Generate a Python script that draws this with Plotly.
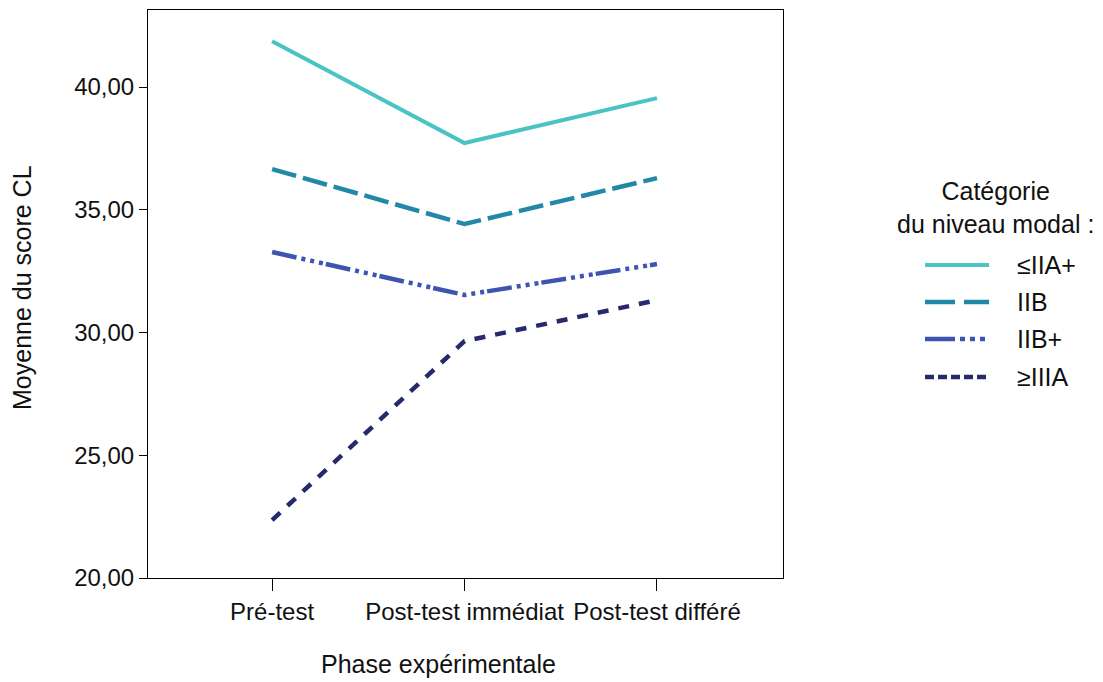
import plotly.graph_objects as go

phases = ["Pré-test", "Post-test immédiat", "Post-test différé"]
series_names = ["≤IIA+", "IIB", "IIB+", "≥IIIA"]
v_iia = [41.87, 37.72, 39.55]
v_iib = [36.66, 34.42, 36.29]
v_iibp = [33.28, 31.53, 32.79]
v_iiia = [22.36, 29.65, 31.32]
values = [v_iia, v_iib, v_iibp, v_iiia]
y_ticks = [20, 25, 30, 35, 40]

colors = ["#4BC3C5", "#2188A8", "#3D55B0", "#262A6D"]
dashes = ["solid", "25px,7px", "25px,5px,4px,5px,4px,5px,4px,3px", "11px,10px"]
leg_dashes = ["solid", "30px,9px", "30px,5px,5px,5px,5px,5px,5px,5px", "9px,4px"]
widths = [4, 4.5, 4.5, 4.5]

FONT = "Arial, Liberation Sans, sans-serif"

fig = go.Figure()
xs = list(range(len(phases)))
for name, vals, c, d, w in zip(series_names, values, colors, dashes, widths):
    fig.add_trace(go.Scatter(x=xs, y=vals, mode="lines", name=name,
                             line=dict(color=c, width=w, dash=d),
                             showlegend=False))

# page has an 8px body margin: compensate so plot area sits at x 148-783, y 10-578
fig.update_layout(
    width=1103, height=682,
    margin=dict(l=140, r=328, t=2, b=112),
    paper_bgcolor="white", plot_bgcolor="white",
    separators=", ",
    font=dict(family=FONT, size=25, color="#111111"),
)
fig.update_xaxes(range=[-0.645, 2.655], tickvals=xs, ticktext=phases,
                 showgrid=False, zeroline=False, showline=True, linecolor="black",
                 linewidth=1, mirror=True, ticks="outside", ticklen=12,
                 tickcolor="black", tickfont=dict(size=24), tickangle=0,
                 automargin=False)
fig.update_yaxes(range=[20, 43.14], tickvals=y_ticks, tickformat=".2f",
                 showgrid=False, zeroline=False, showline=True, linecolor="black",
                 linewidth=1, mirror=True, ticks="outside", ticklen=8,
                 tickcolor="black", tickfont=dict(size=24), automargin=False)

W, H, L, T = 635, 568, 148, 10
def px_x(p):
    return (p - L) / W
def px_y(p):
    return (T + H - p) / H

# axis titles
fig.add_annotation(text="Phase expérimentale", xref="paper", yref="paper",
                   x=px_x(438), y=px_y(664), showarrow=False, font=dict(size=25),
                   xanchor="center", yanchor="middle")
fig.add_annotation(text="Moyenne du score CL", xref="paper", yref="paper",
                   x=px_x(22), y=px_y(288), showarrow=False, textangle=-90,
                   font=dict(size=25), xanchor="center", yanchor="middle")

# legend (manual)
fig.add_annotation(text="Catégorie<br>du niveau modal :", xref="paper", yref="paper",
                   x=px_x(995), y=px_y(207), showarrow=False, font=dict(size=25),
                   xanchor="center", yanchor="middle", align="center")
leg_y = [265, 302, 339, 377]
for name, c, d, w, ly in zip(series_names, colors, leg_dashes, widths, leg_y):
    fig.add_shape(type="line", xref="paper", yref="paper",
                  x0=px_x(925), x1=px_x(989), y0=px_y(ly), y1=px_y(ly),
                  line=dict(color=c, width=w, dash=d))
    fig.add_annotation(text=name, xref="paper", yref="paper",
                       x=px_x(1015), y=px_y(ly), showarrow=False,
                       font=dict(size=25), xanchor="left", yanchor="middle")

fig.write_html("out.html")
